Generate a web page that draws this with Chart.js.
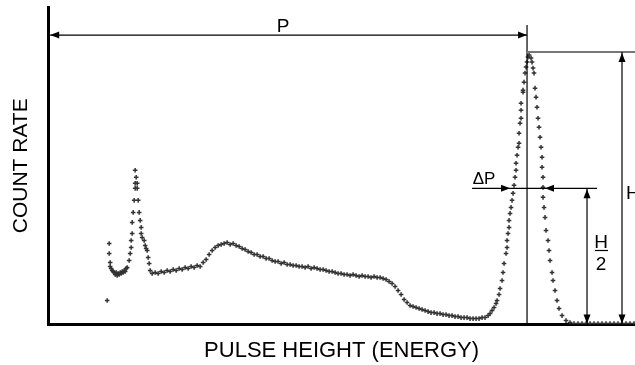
<!DOCTYPE html>
<html>
<head>
<meta charset="utf-8">
<script src="https://cdn.jsdelivr.net/npm/chart.js@4/dist/chart.umd.min.js"></script>
<style>
  html, body { margin: 0; padding: 0; background: #fff; }
  #wrap { width: 635px; height: 365px; position: relative; }
</style>
</head>
<body>
<div id="wrap"><canvas id="spectrum"></canvas></div>
<script>
// pulse height channel / count rate
const channels = [
  59, 61, 61, 62, 62,
  63, 64, 65, 66, 67, 68, 69, 70, 71, 72, 73, 74, 75, 76, 77, 78, 79,
  81, 82, 83, 83, 84, 84, 85, 86, 87, 89, 87, 88, 87,
  89, 90, 91, 92, 93, 93, 94, 96, 97, 98, 99, 100, 101, 102,
  104, 107, 110, 113, 116, 119, 122, 125, 128, 131, 134, 137, 140, 143, 146, 149, 152,
  155, 158, 161, 164, 167, 170, 173, 176, 179, 182, 185, 188, 191, 194, 197, 200,
  203, 206, 209, 212, 215, 218, 221, 224, 227, 230, 233, 236, 239, 242, 245, 248,
  251, 254, 257, 260, 263, 266, 269, 272, 275, 278, 281, 284, 287, 290, 293, 296,
  299, 302, 305, 308, 311, 314, 317, 320, 323, 326, 329, 332, 335, 338, 341, 344,
  347, 350, 353, 356, 359, 362, 365, 368, 371, 374, 377, 380, 383, 386, 389, 392,
  395, 398, 401, 404, 407, 410, 413, 416, 419, 422, 425, 428, 431, 434, 437, 440,
  442, 444, 446, 448, 449, 451, 452, 454, 455, 456, 458, 459, 459, 460, 461, 461,
  462, 463, 464, 465, 466, 467, 468, 468, 469, 470, 471, 471, 472, 473, 473, 473,
  475, 475, 476, 477, 478, 479, 480, 481, 483, 484, 485, 486, 487, 488, 489, 490,
  491, 492, 493, 494, 494, 495, 495, 495, 496, 497, 498, 500, 501, 502, 504, 505,
  507, 509, 511, 514, 518, 522,
  526, 530, 534, 538, 542, 546, 550, 554, 558, 562, 566, 570, 574, 578, 582, 586
];
const counts = [
  24, 81, 71, 62, 58,
  56, 54, 53, 52, 50, 52, 49, 51, 50, 52, 51, 53, 52, 54, 53, 56, 57,
  64, 71, 77, 84, 91, 102, 112, 124, 136, 136, 141, 147, 154,
  141, 124, 112, 104, 97, 91, 87, 84, 79, 76, 74, 67, 61, 54,
  51, 52, 51, 53, 52, 54, 53, 55, 54, 56, 55, 57, 56, 58, 57, 59, 58,
  62, 65, 70, 74, 77, 79, 80, 81, 82, 80, 81, 79, 78, 76, 75, 73,
  72, 70, 70, 68, 68, 66, 66, 64, 63, 63, 61, 62, 60, 60, 59, 59,
  58, 58, 57, 58, 56, 57, 56, 55, 55, 54, 53, 53, 52, 51, 51, 50,
  50, 49, 50, 49, 48, 49, 48, 48, 47, 48, 47, 47, 46, 45, 43, 41,
  38, 34, 30, 25, 22, 19, 18, 17, 16, 15, 14, 13, 12, 12, 11, 11,
  10, 10, 9, 9, 8, 8, 7, 7, 7, 6, 6, 6, 6, 7, 7, 9,
  11, 14, 17, 21, 24, 30, 36, 44, 52, 61, 71, 77, 84, 91, 97, 104,
  111, 117, 124, 131, 139, 147, 154, 161, 169, 177, 181, 191, 201, 206, 214, 221,
  232, 234, 242, 251, 257, 262, 267, 269, 266, 262, 256, 251, 236, 227, 217, 206,
  197, 187, 177, 167, 157, 147, 137, 127, 117, 107, 94, 84, 74, 64, 52, 44,
  34, 24, 16, 9, 4, 2,
  1, 1, 1, 1, 1, 1, 1, 1, 1, 1, 1, 1, 1, 1, 1, 1
];

// markers on the photopeak
const peakChannel = 479;
const peakHeight = 272;
const halfHeight = peakHeight / 2;
const fwhmLeft = 462;
const fwhmRight = 497;

const points = channels.map((c, i) => ({ x: c, y: counts[i] }));

const FONT = '"Liberation Sans", Arial, sans-serif';

function arrowHead(ctx, x, y, dir) {
  // dir: 'l','r','u','d' -> where the tip points
  const len = 9, half = 3.5;
  ctx.beginPath();
  ctx.moveTo(x, y);
  if (dir === 'l') { ctx.lineTo(x + len, y - half); ctx.lineTo(x + len, y + half); }
  if (dir === 'r') { ctx.lineTo(x - len, y - half); ctx.lineTo(x - len, y + half); }
  if (dir === 'u') { ctx.lineTo(x - half, y + len); ctx.lineTo(x + half, y + len); }
  if (dir === 'd') { ctx.lineTo(x - half, y - len); ctx.lineTo(x + half, y - len); }
  ctx.closePath();
  ctx.fill();
}

function line(ctx, x1, y1, x2, y2) {
  ctx.beginPath();
  ctx.moveTo(x1, y1);
  ctx.lineTo(x2, y2);
  ctx.stroke();
}

const peakMarks = {
  id: 'peakMarks',
  afterDraw(chart) {
    const ctx = chart.ctx;
    const xs = chart.scales.x, ys = chart.scales.y;
    const px = v => xs.getPixelForValue(v);
    const py = v => ys.getPixelForValue(v);
    ctx.save();
    ctx.strokeStyle = '#000';
    ctx.fillStyle = '#000';
    ctx.lineWidth = 1.2;

    // P : distance to the peak
    const pY = py(289);
    line(ctx, px(0) + 2, pY, px(peakChannel), pY);
    arrowHead(ctx, px(0) + 2, pY, 'l');
    arrowHead(ctx, px(peakChannel), pY, 'r');
    line(ctx, px(peakChannel), py(299), px(peakChannel), py(0));

    // H : peak height
    ctx.strokeStyle = '#777';
    ctx.lineWidth = 2;
    line(ctx, px(peakChannel), py(peakHeight), chart.width, py(peakHeight));
    ctx.strokeStyle = '#000';
    ctx.lineWidth = 1.2;
    const hX = px(574);
    line(ctx, hX, py(peakHeight), hX, py(0));
    arrowHead(ctx, hX, py(peakHeight) + 1, 'u');
    arrowHead(ctx, hX, py(0) - 1, 'd');

    // delta P at half height
    const dY = py(halfHeight);
    line(ctx, px(424), dY, px(549), dY);
    arrowHead(ctx, px(fwhmLeft), dY, 'r');
    arrowHead(ctx, px(fwhmRight), dY, 'l');

    // H/2
    const h2X = px(539);
    line(ctx, h2X, dY, h2X, py(0));
    arrowHead(ctx, h2X, dY + 1, 'u');
    arrowHead(ctx, h2X, py(0) - 1, 'd');

    // labels
    ctx.textBaseline = 'alphabetic';
    ctx.textAlign = 'center';
    ctx.font = '19px ' + FONT;
    ctx.fillText('P', px(235), 32);
    ctx.font = '17px ' + FONT;
    ctx.fillText('\u0394P', px(436), 184);
    ctx.font = '19px ' + FONT;
    ctx.fillText('H', px(553), 248);
    ctx.fillText('2', px(553), 270);
    ctx.lineWidth = 1.2;
    line(ctx, px(547), 250.5, px(560), 250.5);
    ctx.textAlign = 'left';
    ctx.fillText('H', px(578), 199);
    ctx.restore();
  }
};

new Chart(document.getElementById('spectrum'), {
  type: 'scatter',
  data: {
    datasets: [{
      data: points,
      pointStyle: 'cross',
      pointRadius: 2.3,
      pointBorderWidth: 1.5,
      borderColor: '#333',
      backgroundColor: '#333',
      showLine: false
    }]
  },
  options: {
    responsive: true,
    maintainAspectRatio: false,
    animation: false,
    layout: { autoPadding: false, padding: { left: 0, top: 7, right: 0, bottom: 0 } },
    plugins: { legend: { display: false }, tooltip: { enabled: false } },
    scales: {
      x: {
        type: 'linear',
        min: 0,
        max: 587,
        grid: { display: false, drawTicks: false },
        ticks: { display: false },
        border: { display: true, color: '#000', width: 3 },
        title: {
          display: true,
          text: 'PULSE HEIGHT (ENERGY)',
          color: '#000',
          font: { family: FONT, size: 22 },
          padding: { top: 13, bottom: 1 }
        }
      },
      y: {
        min: 0,
        max: 317,
        grid: { display: false, drawTicks: false },
        ticks: { display: false },
        border: { display: true, color: '#000', width: 3 },
        title: {
          display: true,
          text: 'COUNT RATE',
          color: '#000',
          font: { family: FONT, size: 21 },
          padding: { top: 9, bottom: 14 }
        }
      }
    }
  },
  plugins: [peakMarks]
});
</script>
</body>
</html>
